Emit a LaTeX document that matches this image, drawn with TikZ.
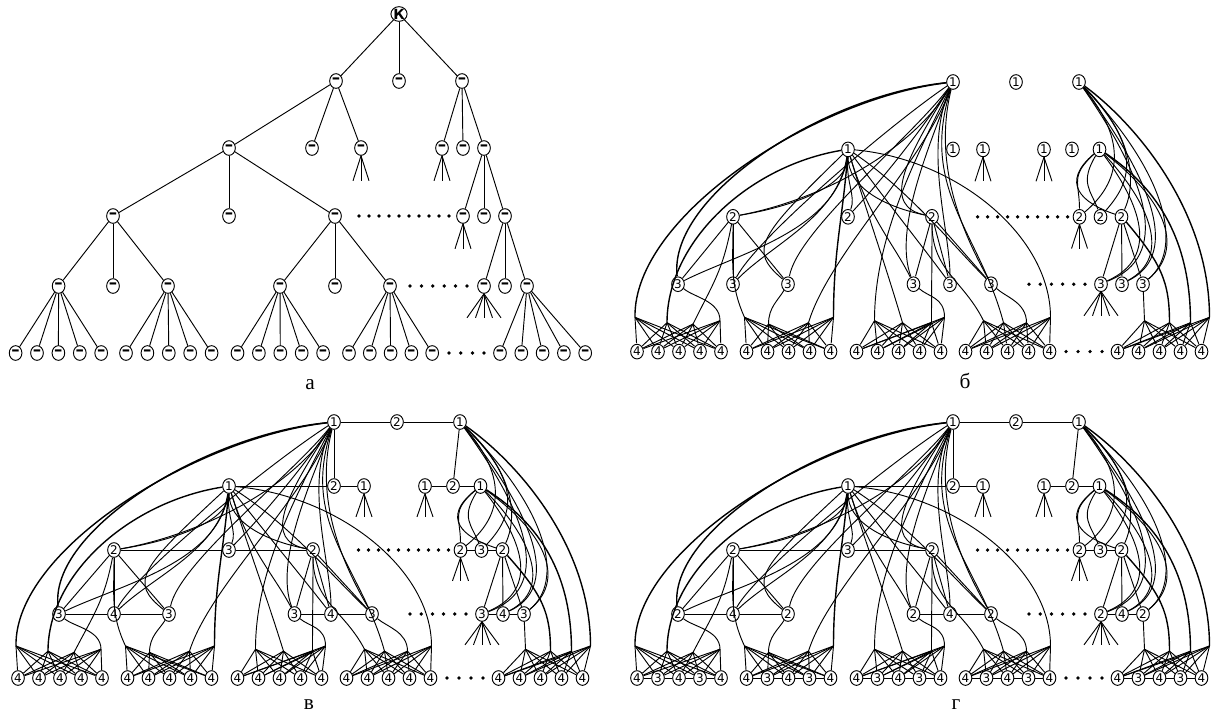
\documentclass[tikz,border=0pt]{standalone}
\usepackage{fontspec}
\setmainfont{Liberation Serif}
\newfontfamily\digf{DejaVu Sans}
\usetikzlibrary{shapes.geometric}
\tikzset{
 nd/.style={draw, ellipse, inner sep=0pt, minimum width=9.5pt, minimum height=11pt, font=\digf\fontsize{9}{9}\selectfont},
 ad/.style={nd, font=\digf\bfseries\fontsize{12.5}{12.5}\selectfont},
 dt/.style={circle, fill=black, inner sep=0pt, minimum size=2.8pt},
 lbl/.style={font=\fontsize{16}{16}\selectfont, anchor=base},
 thk/.style={line width=1.05pt},
}
\newcommand\cv[6]{\draw (#1) .. controls +(#3,#4) and +(#5,#6) .. (#2);}
\newcommand\cvt[6]{\draw[thk] (#1) .. controls +(#3,#4) and +(#5,#6) .. (#2);}
\newcommand\PanelNodes[6]{%
 \node[nd] (T1) at (334,0) {1};
 \node[nd] (T2) at (397,0) {#1};
 \node[nd] (T3) at (460,0) {1};
 \node[nd] (R1a) at (229,1) {1};
 \node[nd] (R1b) at (334,1) {#2};
 \node[nd] (R1c) at (364,1) {1};
 \node[nd] (R1d) at (425,1) {1};
 \node[nd] (R1e) at (453,1) {#2};
 \node[nd] (R1f) at (480.5,1) {1};
 \node[nd] (R2a) at (114,2) {2};
 \node[nd] (R2b) at (229,2) {#3};
 \node[nd] (R2c) at (313,2) {2};
 \node[nd] (R2d) at (460.5,2) {2};
 \node[nd] (R2e) at (481.5,2) {#3};
 \node[nd] (R2f) at (502.5,2) {2};
 \node[nd] (R3a) at (59,3) {#4};
 \node[nd] (R3b) at (114,3) {#5};
 \node[nd] (R3c) at (169,3) {#4};
 \node[nd] (R3d) at (294.5,3) {#4};
 \node[nd] (R3e) at (331,3) {#5};
 \node[nd] (R3f) at (372,3) {#4};
 \node[nd] (R3g) at (482,3) {#4};
 \node[nd] (R3h) at (503,3) {#5};
 \node[nd] (R3i) at (524,3) {#4};
 \foreach \g/\x in {1/18,2/127.5,3/237.5,4/346.5,5/498.5}{
  \foreach \k in {1,...,5}{
   \node[nd] (L\g-\k) at ({\x+21*(\k-1)},4) {\ifodd\k\relax 4\else #6\fi};
  }
 }
 \foreach \i in {0,...,9} \node[dt] (dA\i) at ({358.6+10*\i},2) {};
 \foreach \i in {0,...,5} \node[dt] (dB\i) at ({410+11.2*\i},3) {};
 \foreach \i in {0,...,3} \node[dt] (dC\i) at ({447+12*\i},4) {};
 \coordinate (H1T) at (16,3.5);   \coordinate (H1R) at (48,3.58);
 \coordinate (H1a) at (74,3.6);   \coordinate (H1p) at (101,3.55);
 \coordinate (H2a) at (125.5,3.5); \coordinate (H2p) at (149.5,3.6);
 \coordinate (H2T) at (189.5,3.58); \coordinate (H2R) at (214.5,3.5);
 \coordinate (H3T) at (255.5,3.55); \coordinate (H3R) at (283.5,3.58);
 \coordinate (H3c) at (312.5,3.58); \coordinate (H3p) at (325.5,3.5);
 \coordinate (H4c) at (364.5,3.55); \coordinate (H4T) at (384.5,3.58);
 \coordinate (H4p) at (407.5,3.58); \coordinate (H4R) at (431.5,3.5);
 \coordinate (H5p) at (525.5,3.55); \coordinate (H5f) at (550.5,3.58);
 \coordinate (H5R) at (571.5,3.58); \coordinate (H5T) at (590.5,3.5);
}
\newcommand\PanelEdges{%
 % fans
 \foreach \n in {R1c,R1d,R2d}{\foreach \d in {-8,0,8} \draw (\n.south) -- +(\d,0.36);}
 \foreach \d in {-17,-8.5,0,8.5,17} \draw (R3g.south) -- +(\d,0.36);
 % T1
 \cv{T1}{R2a}{-40}{1.0}{90}{-0.25}
 \cv{T1}{R2b}{-40}{0.9}{25}{-0.4}
 \cv{T1}{R2c}{-50}{1.2}{-50}{-0.15}
 \cvt{T1}{R3a}{-130}{0.2}{-10}{-1.3}
 \cv{T1}{R3b}{-60}{0.6}{25}{-0.7}
 \cv{T1}{R3c}{-40}{0.8}{10}{-0.8}
 \cv{T1}{R3d}{-25}{1.0}{-20}{-0.8}
 \cv{T1}{R3e}{-30}{1.0}{0}{-0.8}
 \cv{T1}{R3f}{-20}{1.2}{-30}{-0.8}
 \cvt{T1}{H1T}{-139}{0.25}{-2}{-1.5}
 \cv{T1}{H2T}{-30}{1.2}{20}{-1.0}
 \cv{T1}{H3T}{-40}{1.2}{0}{-1.2}
 \cv{T1}{H4T}{-34}{1.6}{-24}{-1.35}
 % T3
 \cv{T3}{R2d}{50}{0.9}{40}{-0.5}
 \cv{T3}{R2e}{65}{1.0}{30}{-0.5}
 \cv{T3}{R2f}{55}{0.8}{15}{-0.5}
 \cv{T3}{R3g}{70}{1.5}{70}{-0.4}
 \cv{T3}{R3h}{80}{1.6}{55}{-0.4}
 \cv{T3}{R3i}{90}{1.4}{40}{-0.5}
 \cvt{T3}{H5T}{55}{0.6}{0}{-1.6}
 % R1a
 \cv{R1a}{R2a}{0}{0.55}{60}{-0.15}
 \cv{R1a}{R2b}{-2}{0.5}{8}{-0.3}
 \cv{R1a}{R2c}{0}{0.55}{-50}{-0.15}
 \cv{R1a}{R3a}{-10}{1.2}{60}{-0.45}
 \cv{R1a}{R3b}{-10}{1.0}{40}{-0.6}
 \cv{R1a}{R3c}{-90}{1.3}{-40}{-0.5}
 \cv{R1a}{R3d}{20}{1.0}{-20}{-0.6}
 \cv{R1a}{R3e}{40}{0.8}{-30}{-0.6}
 \cv{R1a}{R3f}{60}{0.6}{-40}{-0.6}
 \cvt{R1a}{H1R}{-100}{0.25}{0}{-1.2}
 \cvt{R1a}{H2R}{-5}{1.0}{0}{-1.0}
 \cv{R1a}{H3R}{20}{1.0}{-20}{-1.0}
 \cv{R1a}{H4R}{110}{0.15}{0}{-1.2}
 % R1f
 \cv{R1f}{R2d}{-30}{0.4}{0}{-0.5}
 \cv{R1f}{R2e}{-20}{0.5}{-10}{-0.4}
 \cv{R1f}{R2f}{-40}{0.5}{-40}{-0.2}
 \cv{R1f}{R3g}{40}{0.8}{60}{-0.4}
 \cv{R1f}{R3h}{50}{0.8}{50}{-0.4}
 \cv{R1f}{R3i}{70}{0.8}{40}{-0.5}
 \cvt{R1f}{H5R}{60}{0.6}{0}{-1.2}
 % R2 level
 \foreach \c in {R3a,R3b,R3c} \draw (R2a) -- (\c);
 \foreach \c in {R3d,R3e,R3f} \draw (R2c) -- (\c);
 \foreach \c in {R3g,R3h,R3i} \draw (R2f) -- (\c);
 \cv{R2a}{H1a}{-10}{0.8}{20}{-0.6}
 \cv{R2a}{H2a}{0}{0.7}{-15}{-0.5}
 \cv{R2c}{H3c}{0}{0.8}{0}{-0.6}
 \cv{R2c}{H4c}{0}{0.8}{-20}{-0.6}
 \cvt{R2f}{H5f}{40}{0.7}{0}{-0.6}
 % R3 level
 \cv{R3a}{H1p}{15}{0.2}{0}{-0.3}
 \cv{R3c}{H2p}{-10}{0.25}{0}{-0.25}
 \cv{R3d}{H3p}{15}{0.2}{0}{-0.3}
 \cv{R3f}{H4p}{15}{0.2}{0}{-0.3}
 \draw (R3i) -- (H5p);
 % hub fans
 \foreach \g/\hs in {1/{T,R,a,p},2/{a,p,T,R},3/{T,R,c,p},4/{c,T,p,R},5/{p,f,R,T}}{
  \foreach \h in \hs {\foreach \k in {1,...,5} \draw (H\g\h) -- (L\g-\k);}
 }
}
\newcommand\PanelLinks{%
 \draw (T1) -- (T2) -- (T3);
 \draw (T1) -- (R1b);
 \draw (T3) -- (R1e);
 \draw (R1a) -- (R1b) -- (R1c);
 \draw (R1d) -- (R1e) -- (R1f);
 \draw (R2a) -- (R2b) -- (R2c);
 \draw (R2d) -- (R2e) -- (R2f);
 \draw (R3a) -- (R3b) -- (R3c);
 \draw (R3d) -- (R3e) -- (R3f);
 \draw (R3g) -- (R3h) -- (R3i);
}
\begin{document}
\begin{tikzpicture}[x=0.75pt,y=-0.75pt,line width=0.7pt]
\useasboundingbox (0,0) rectangle (1218,715);
% ---------- panel a ----------
\node[nd, font=\digf\bfseries\fontsize{10.5}{10.5}\selectfont] (K) at (399,14) {К};
\foreach \n/\x/\y in {a1/336/81, a2/399/81, a3/462/81,
  b1/229/148, b2/312/148, b3/361/148, b4/442/148, b5/463/148, b6/484/148,
  c1/113/216, c2/229/216, c3/335/216, c4/463/216, c5/484/216, c6/505/216,
  d1/58.6/286, d2/113/286, d3/168/286, d4/280/286, d5/335/286, d6/390/286,
  d7/484/286, d8/505/286, d9/527/286}
  \node[ad] (\n) at (\x,\y) {–};
\foreach \g/\x/\s in {1/15.6/21.4, 2/126/21.4, 3/237.5/21.4, 4/349/20.8, 5/500/21.3}
  \foreach \k in {1,...,5} \node[ad] (l\g-\k) at ({\x+\s*(\k-1)},353) {–};
\foreach \p/\c in {K/a1,K/a2,K/a3,a1/b1,a1/b2,a1/b3,a3/b4,a3/b5,a3/b6,
  b1/c1,b1/c2,b1/c3,b6/c4,b6/c5,b6/c6,c1/d1,c1/d2,c1/d3,c3/d4,c3/d5,c3/d6,
  c6/d7,c6/d8,c6/d9} \draw (\p) -- (\c);
\foreach \p/\g in {d1/1,d3/2,d4/3,d6/4,d9/5}
  \foreach \k in {1,...,5} \draw (\p) -- (l\g-\k);
\foreach \n in {b3,b4,c4}{\foreach \d in {-8,0,8} \draw (\n.south) -- +(\d,25);}
\foreach \d in {-17,-8.5,0,8.5,17} \draw (d7.south) -- +(\d,24);
\foreach \i in {0,...,9} \node[dt] (adA\i) at ({359+10*\i},216) {};
\foreach \i in {0,...,5} \node[dt] (adB\i) at ({410+11.4*\i},286) {};
\foreach \i in {0,...,3} \node[dt] (adC\i) at ({449+11.7*\i},353) {};
\node[lbl] (labA) at (310,389) {а};
% ---------- panel b ----------
\begin{scope}[shift={(619,82)}, yscale=67.4, name prefix=b-]
\PanelNodes{1}{1}{2}{3}{3}{4}
\PanelEdges
\end{scope}
\node[lbl] (labB) at (965,388) {б};
% ---------- panel v ----------
\begin{scope}[shift={(0,422)}, yscale=64, name prefix=v-]
\PanelNodes{2}{2}{3}{3}{4}{4}
\PanelEdges
\PanelLinks
\end{scope}
\node[lbl] (labV) at (309,709) {в};
% ---------- panel g ----------
\begin{scope}[shift={(619,422)}, yscale=64, name prefix=g-]
\PanelNodes{2}{2}{3}{2}{4}{3}
\PanelEdges
\PanelLinks
\foreach \g in {1,...,5}{\foreach \k/\j in {1/2,2/3,3/4,4/5} \draw (L\g-\k) -- (L\g-\j);}
\end{scope}
\node[lbl] (labG) at (956,709) {г};
\end{tikzpicture}
\end{document}
